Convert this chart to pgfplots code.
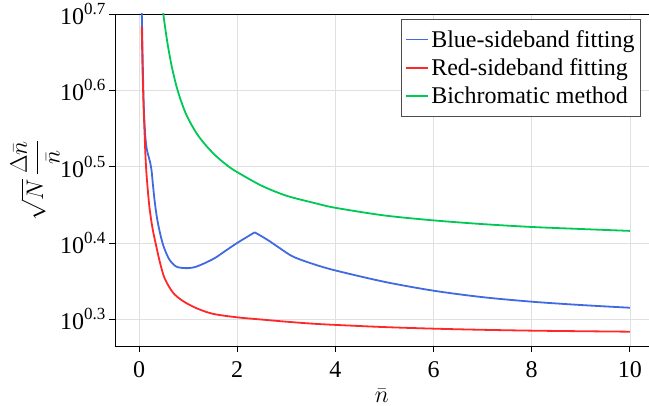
\documentclass[border=0pt]{standalone}
\usepackage{fix-cm}
\usepackage{amsmath}
\usepackage{fontspec}
\setmainfont{Liberation Serif}
\usepackage{pgfplots}
\pgfplotsset{compat=1.18}

\definecolor{cblue}{RGB}{65,105,225}
\definecolor{cred}{RGB}{255,40,40}
\definecolor{cgreen}{RGB}{0,200,85}
\newcommand{\bigf}{\fontsize{24}{28}\selectfont}
\newcommand{\tp}[1]{10\raisebox{0.42em}{\fontsize{17}{17}\selectfont #1}}

\begin{document}
\begin{tikzpicture}
\useasboundingbox (-115pt,-60pt) rectangle (534pt,346pt);
\begin{axis}[
  scale only axis, width=534pt, height=332pt,
  ymode=log,
  xmin=-0.49, xmax=10.39, ymin=1.841, ymax=5.012,
  axis x line*=box, axis y line*=left,
  xtick pos=bottom, ytick pos=left, tick align=outside,
  major tick length=6pt,
  axis line style={line width=0.9pt, black},
  every tick/.style={black, line width=0.8pt},
  xtick={0,2,4,6,8,10},
  ytick={1.9953,2.5119,3.1623,3.9811,5.0119},
  yticklabels={\tp{0.3},\tp{0.4},\tp{0.5},\tp{0.6},\tp{0.7}},
  minor ytick={}, yminorticks=false,
  grid=major, major grid style={black!12, line width=0.7pt},
  /pgf/number format/assume math mode=true,
  tick label style={font=\bigf},
  xticklabel style={yshift=-6pt},
  xlabel={$\bar{n}$}, xlabel style={font=\bigf, at={(axis description cs:0.5,0)}, anchor=center, yshift=-50pt},
  ylabel={$\sqrt{N}\,\dfrac{\Delta\bar{n}}{\bar{n}}$},
  ylabel style={font=\bigf, at={(axis description cs:0,0.5)}, anchor=center, yshift=80pt},
  legend style={at={(axis description cs:1,1)}, anchor=north east, xshift=-8pt, yshift=-5pt,
    draw=black!70, line width=0.8pt, font=\bigf, inner xsep=4pt, inner ysep=9pt,
    row sep=6pt},
  legend cell align=left,
  legend image code/.code={\draw[#1] (0pt,0pt) -- (22pt,0pt);},
  every axis plot/.append style={line width=1.8pt, smooth, tension=0.5},
]
\addlegendimage{cblue, line width=1.8pt}
\addlegendentry{Blue-sideband fitting}
\addlegendimage{cred, line width=1.8pt}
\addlegendentry{Red-sideband fitting}
\addlegendimage{cgreen, line width=1.8pt}
\addlegendentry{Bichromatic method}
% blue-sideband fitting, split at the cusp
\addplot[cblue, forget plot] coordinates {
(0.05,5.188) (0.06,4.898) (0.07,4.519) (0.08,4.188) (0.092,3.873)
(0.105,3.673) (0.13,3.451) (0.16,3.327) (0.20,3.251) (0.228,3.199)
(0.255,3.126) (0.285,2.985) (0.316,2.858) (0.36,2.723) (0.41,2.618)
(0.47,2.523) (0.52,2.466) (0.62,2.388) (0.76,2.339) (0.96,2.328)
(1.17,2.339) (1.51,2.393) (1.745,2.449) (2.0,2.512) (2.357,2.594)};
\addplot[cblue, forget plot] coordinates {
(2.357,2.594) (2.62,2.535) (2.87,2.472) (3.14,2.410) (3.55,2.357)
(4,2.312) (5,2.234) (6,2.175) (7,2.133) (8,2.104) (9,2.083) (10,2.066)};
% red-sideband fitting
\addplot[cred, forget plot] coordinates {
(0.055,4.831) (0.07,4.266) (0.085,3.936) (0.10,3.673) (0.115,3.467)
(0.13,3.273) (0.15,3.105) (0.18,2.938) (0.21,2.805) (0.25,2.685)
(0.29,2.594) (0.35,2.489) (0.42,2.377) (0.52,2.259) (0.69,2.163)
(0.89,2.109) (1.17,2.063) (1.51,2.028) (2.0,2.007) (2.46,1.995)
(3.0,1.981) (3.5,1.970) (4,1.962) (5,1.949) (6,1.940) (7,1.933)
(8,1.928) (9,1.925) (10,1.922)};
% bichromatic method
\addplot[cgreen, forget plot] coordinates {
(0.45,5.345) (0.495,5.012) (0.55,4.721) (0.6,4.508) (0.67,4.266)
(0.76,4.036) (0.85,3.864) (0.95,3.715) (1.05,3.606) (1.2,3.475)
(1.4,3.350) (1.6,3.251) (1.85,3.155) (2.05,3.097) (2.5,2.985)
(3.0,2.897) (3.6,2.831) (4,2.793) (5,2.729) (6,2.689) (7,2.659)
(8,2.636) (9,2.620) (10,2.605)};
\end{axis}
\end{tikzpicture}
\end{document}
